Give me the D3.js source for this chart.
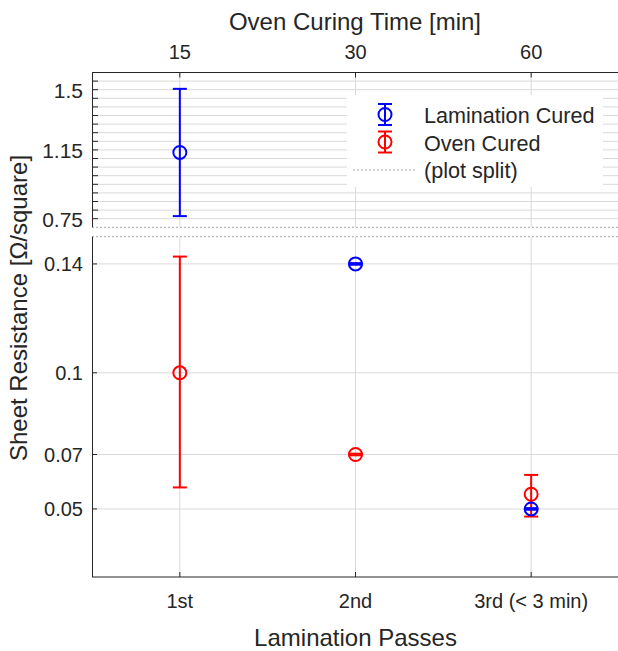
<!DOCTYPE html>
<html><head><meta charset="utf-8">
<script src="https://cdn.jsdelivr.net/npm/d3@7"></script>
<style>
body{margin:0;background:#fff}
text{font-family:"Liberation Sans",Arial,Helvetica,sans-serif;fill:#262626}
</style>
</head><body><svg id="c" width="618" height="651"></svg>
<script>
// ---- data ----
const categories = ["1st", "2nd", "3rd (< 3 min)"];
const ovenTimes = ["15", "30", "60"];
const laminationMean = [1.135, 0.14, 0.05];
const laminationLow  = [0.765, 0.1397, 0.0497];
const laminationHigh = [1.505, 0.1403, 0.0503];
const ovenMean = [0.1, 0.07, 0.0554];
const ovenLow  = [0.0579, 0.0697, 0.0472];
const ovenHigh = [0.1427, 0.0703, 0.0625];
const upperTicks = [1.5, 1.15, 0.75];
const lowerTicks = [0.14, 0.1, 0.07, 0.05];
const legendLabels = ["Lamination Cured", "Oven Cured", "(plot split)"];

// ---- layout ----
const svg = d3.select("#c");
const X0 = 92, X1 = 619;
const upTop = 72.5, upBot = 227.3, loTop = 236.7, loBot = 577;
const x = d3.scalePoint().domain(categories).range([X0, X1]).padding(0.5);
const xTop = d3.scalePoint().domain(ovenTimes).range([X0, X1]).padding(0.5);
const yUp = d3.scaleLinear().domain([0.7, 1.6]).range([upBot, upTop]);
const yLo = d3.scaleLinear().domain([0.025, 0.15]).range([loBot, loTop]);
const y = v => v > 0.5 ? yUp(v) : yLo(v);
const gridC = "#d9d9d9", axisC = "#262626";

// gridlines upper
const upMinor = yUp.ticks(18).filter(t => t > 0.72 && t < 1.58);
svg.append("g").selectAll("line").data(upMinor).join("line")
  .attr("x1", X0).attr("x2", X1).attr("y1", d => yUp(d)).attr("y2", d => yUp(d))
  .attr("stroke", gridC).attr("stroke-width", 1);
// gridlines lower
svg.append("g").selectAll("line").data(lowerTicks).join("line")
  .attr("x1", X0).attr("x2", X1).attr("y1", d => yLo(d)).attr("y2", d => yLo(d))
  .attr("stroke", gridC).attr("stroke-width", 1);
// vertical gridlines
categories.forEach(c => {
  svg.append("line").attr("x1", x(c)).attr("x2", x(c)).attr("y1", upTop).attr("y2", upBot)
    .attr("stroke", gridC);
  svg.append("line").attr("x1", x(c)).attr("x2", x(c)).attr("y1", loTop).attr("y2", loBot)
    .attr("stroke", gridC);
});

// split dotted lines
[upBot, loTop].forEach(yy => svg.append("line").attr("x1", X0).attr("x2", X1)
  .attr("y1", yy).attr("y2", yy).attr("stroke", "#a8a8a8").attr("stroke-dasharray", "2,2"));

// axes lines
svg.append("line").attr("x1", X0).attr("x2", X1).attr("y1", upTop).attr("y2", upTop).attr("stroke", axisC);
svg.append("line").attr("x1", X0 + 0.5).attr("x2", X0 + 0.5).attr("y1", upTop).attr("y2", upBot).attr("stroke", axisC);
svg.append("line").attr("x1", X0 + 0.5).attr("x2", X0 + 0.5).attr("y1", loTop).attr("y2", loBot).attr("stroke", axisC);
svg.append("line").attr("x1", X0).attr("x2", X1).attr("y1", loBot).attr("y2", loBot).attr("stroke", axisC);

// ticks
upMinor.forEach(t => svg.append("line").attr("x1", X0).attr("x2", X0 + 6)
  .attr("y1", yUp(t)).attr("y2", yUp(t)).attr("stroke", axisC));
lowerTicks.forEach(t => svg.append("line").attr("x1", X0).attr("x2", X0 + 5)
  .attr("y1", yLo(t)).attr("y2", yLo(t)).attr("stroke", axisC));
categories.forEach(c => {
  svg.append("line").attr("x1", x(c)).attr("x2", x(c)).attr("y1", upTop).attr("y2", upTop + 5).attr("stroke", axisC);
  svg.append("line").attr("x1", x(c)).attr("x2", x(c)).attr("y1", loBot).attr("y2", loBot - 5).attr("stroke", axisC);
});

// tick labels
svg.append("g").selectAll("text").data(upperTicks).join("text")
  .attr("x", 83).attr("y", d => yUp(d) + 8).attr("text-anchor", "end")
  .attr("font-size", 21).text(d => d);
svg.append("g").selectAll("text").data(lowerTicks).join("text")
  .attr("x", 83).attr("y", d => yLo(d) + 7.5).attr("text-anchor", "end")
  .attr("font-size", 20).text(d => d);
svg.append("g").selectAll("text").data(ovenTimes).join("text")
  .attr("x", d => xTop(d)).attr("y", 59).attr("text-anchor", "middle")
  .attr("font-size", 20).text(d => d);
svg.append("g").selectAll("text").data(categories).join("text")
  .attr("x", d => x(d)).attr("y", 608).attr("text-anchor", "middle")
  .attr("font-size", 20).text(d => d);

// axis titles
svg.append("text").attr("x", 355).attr("y", 30).attr("text-anchor", "middle")
  .attr("font-size", 24).text("Oven Curing Time [min]");
svg.append("text").attr("x", 355.5).attr("y", 646).attr("text-anchor", "middle")
  .attr("font-size", 24).text("Lamination Passes");
svg.append("text").attr("transform", "translate(27,308) rotate(-90)").attr("text-anchor", "middle")
  .attr("font-size", 24).text("Sheet Resistance [Ω/square]");

// error bars
function drawSeries(mean, low, high, color) {
  const g = svg.append("g");
  categories.forEach((c, i) => {
    const cx = x(c);
    g.append("line").attr("x1", cx).attr("x2", cx).attr("y1", y(low[i])).attr("y2", y(high[i]))
      .attr("stroke", color).attr("stroke-width", 2);
    [low[i], high[i]].forEach(v => g.append("line").attr("x1", cx - 7).attr("x2", cx + 7)
      .attr("y1", y(v)).attr("y2", y(v)).attr("stroke", color).attr("stroke-width", 2));
    g.append("circle").attr("cx", cx).attr("cy", y(mean[i])).attr("r", 6.5)
      .attr("fill", "none").attr("stroke", color).attr("stroke-width", 2);
  });
}
drawSeries(ovenMean, ovenLow, ovenHigh, "#ff0000");
drawSeries(laminationMean, laminationLow, laminationHigh, "#0000ff");

// legend
const lg = svg.append("g");
lg.append("rect").attr("x", 347).attr("y", 95).attr("width", 256).attr("height", 92).attr("fill", "#fff");
const rowsY = [123, 150.5, 178];
const colors = ["#0000ff", "#ff0000"];
colors.forEach((col, i) => {
  const cy = rowsY[i] - 8.5, cx = 385;
  lg.append("line").attr("x1", cx).attr("x2", cx).attr("y1", cy - 10.5).attr("y2", cy + 10.5)
    .attr("stroke", col).attr("stroke-width", 2);
  [cy - 10.5, cy + 10.5].forEach(v => lg.append("line").attr("x1", cx - 7).attr("x2", cx + 7)
    .attr("y1", v).attr("y2", v).attr("stroke", col).attr("stroke-width", 2));
  lg.append("circle").attr("cx", cx).attr("cy", cy).attr("r", 6.5).attr("fill", "none")
    .attr("stroke", col).attr("stroke-width", 2);
});
lg.append("line").attr("x1", 353).attr("x2", 417).attr("y1", 170).attr("y2", 170)
  .attr("stroke", "#a8a8a8").attr("stroke-dasharray", "2,2");
lg.selectAll("text.l").data(legendLabels).join("text").attr("class", "l")
  .attr("x", 424).attr("y", (d, i) => rowsY[i]).attr("font-size", 21.6).text(d => d);
</script>
</body></html>
